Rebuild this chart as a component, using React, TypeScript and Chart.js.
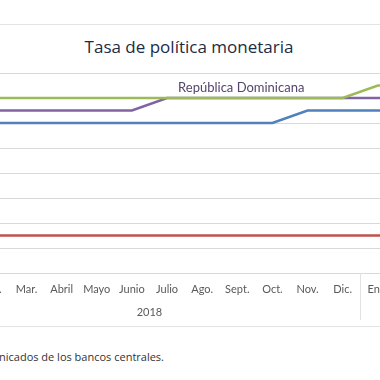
import React, { useEffect, useRef } from "react";
import { Chart, registerables } from "chart.js";

Chart.register(...registerables);

const months = ["Ene.", "Feb.", "Mar.", "Abril", "Mayo", "Junio", "Julio", "Ago.", "Sept.", "Oct.", "Nov.", "Dic.", "Ene.", "Feb."];
const yearLabels = ["2018", "2019"];
const yearStarts = [0, 12];
const yearEnds = [11, 13];

const honduras = [5.5, 5.5, 5.5, 5.5, 5.5, 5.5, 5.5, 5.5, 5.5, 5.5, 5.5, 5.5, 5.75, 5.75];
const repDominicana = [5.25, 5.25, 5.25, 5.25, 5.25, 5.25, 5.5, 5.5, 5.5, 5.5, 5.5, 5.5, 5.5, 5.5];
const costaRica = [5.0, 5.0, 5.0, 5.0, 5.0, 5.0, 5.0, 5.0, 5.0, 5.0, 5.25, 5.25, 5.25, 5.25];
const guatemala = [2.75, 2.75, 2.75, 2.75, 2.75, 2.75, 2.75, 2.75, 2.75, 2.75, 2.75, 2.75, 2.75, 2.75];

const seriesLabelText = "República Dominicana";
const seriesLabelIndex = 6;

const axisFont = "Lato, 'Open Sans', sans-serif";

const overlayPlugin = {
  id: "overlay",
  afterDraw(chart: any) {
    const { ctx, chartArea } = chart;
    const x = chart.scales.x;
    const half = (x.getPixelForValue(1) - x.getPixelForValue(0)) / 2;
    const base = chartArea.bottom;
    ctx.save();
    ctx.strokeStyle = "#e2e2e2";
    ctx.lineWidth = 1;
    yearStarts.forEach((s) => {
      const px = Math.round(x.getPixelForValue(s) - half) + 0.5;
      ctx.beginPath();
      ctx.moveTo(px, base);
      ctx.lineTo(px, base + 47);
      ctx.stroke();
    });
    ctx.fillStyle = "#595959";
    ctx.font = "11px " + axisFont;
    ctx.textAlign = "center";
    ctx.textBaseline = "middle";
    yearLabels.forEach((lab, i) => {
      const cx = (x.getPixelForValue(yearStarts[i]) + x.getPixelForValue(yearEnds[i])) / 2;
      ctx.fillText(lab, cx, base + 39);
    });
    const meta = chart.getDatasetMeta(1);
    const pt = meta.data[seriesLabelIndex];
    ctx.fillStyle = "#54456b";
    ctx.font = "13px " + axisFont;
    ctx.textAlign = "left";
    ctx.textBaseline = "alphabetic";
    ctx.fillText(seriesLabelText, pt.x + 11, pt.y - 6);
    ctx.restore();
  },
};

export default function App() {
  const ref = useRef<HTMLCanvasElement>(null);

  useEffect(() => {
    if (!ref.current) return;
    const mk = (label: string, data: number[], color: string) => ({
      label,
      data,
      borderColor: color,
      backgroundColor: color,
      borderWidth: 2.5,
      pointRadius: 0,
      tension: 0,
      fill: false,
    });
    const chart = new Chart(ref.current, {
      type: "line",
      data: {
        labels: months,
        datasets: [
          mk("Honduras", honduras, "#9bbb59"),
          mk("República Dominicana", repDominicana, "#8064a2"),
          mk("Costa Rica", costaRica, "#4f81bd"),
          mk("Guatemala", guatemala, "#c0504d"),
        ],
      },
      options: {
        animation: false,
        responsive: false,
        devicePixelRatio: 1,
        layout: { padding: { top: 10, left: 0, right: 0, bottom: 0 } },
        plugins: {
          legend: { display: false },
          title: { display: false },
          tooltip: { enabled: false },
        },
        scales: {
          x: {
            type: "category",
            offset: true,
            grid: { display: false, drawTicks: false },
            border: { display: true, color: "#d9d9d9", width: 1 },
            ticks: {
              color: "#595959",
              font: { family: axisFont, size: 11 },
              padding: 10,
              maxRotation: 0,
              autoSkip: false,
            },
            afterFit: (scale: any) => {
              scale.height = 54;
            },
          },
          y: {
            min: 2,
            max: 6,
            ticks: { display: false, stepSize: 0.5 },
            grid: { color: "#d9d9d9", lineWidth: 1, drawTicks: false },
            border: { display: false },
          },
        },
      },
      plugins: [overlayPlugin],
    } as any);
    return () => chart.destroy();
  }, []);

  return (
    <div
      style={{
        position: "fixed",
        left: 0,
        top: 0,
        width: 380,
        height: 380,
        overflow: "hidden",
        background: "#ffffff",
      }}
    >
      <div style={{ position: "absolute", left: 0, top: 24, width: 380, height: 1, background: "#e4e4e4" }} />
      <div style={{ position: "absolute", left: 0, top: 326, width: 380, height: 1, background: "#e4e4e4" }} />
      <div
        style={{
          position: "absolute",
          left: 0,
          top: 36,
          width: 378,
          textAlign: "center",
          fontFamily: "'Open Sans', Lato, sans-serif",
          fontSize: 17,
          lineHeight: "22px",
          color: "#1c2b45",
          whiteSpace: "nowrap",
        }}
      >
        Tasa de política monetaria
      </div>
      <canvas
        ref={ref}
        width={497}
        height={264}
        style={{ position: "absolute", left: -64, top: 63, width: 497, height: 264 }}
      />
      <div
        style={{
          position: "absolute",
          right: 216,
          top: 350,
          fontFamily: "'Open Sans', Lato, sans-serif",
          fontSize: 11,
          lineHeight: "14px",
          color: "#333333",
          whiteSpace: "nowrap",
          textAlign: "right",
        }}
      >
        Fuente: elaboración propia con base en comunicados de los bancos centrales.
      </div>
    </div>
  );
}
